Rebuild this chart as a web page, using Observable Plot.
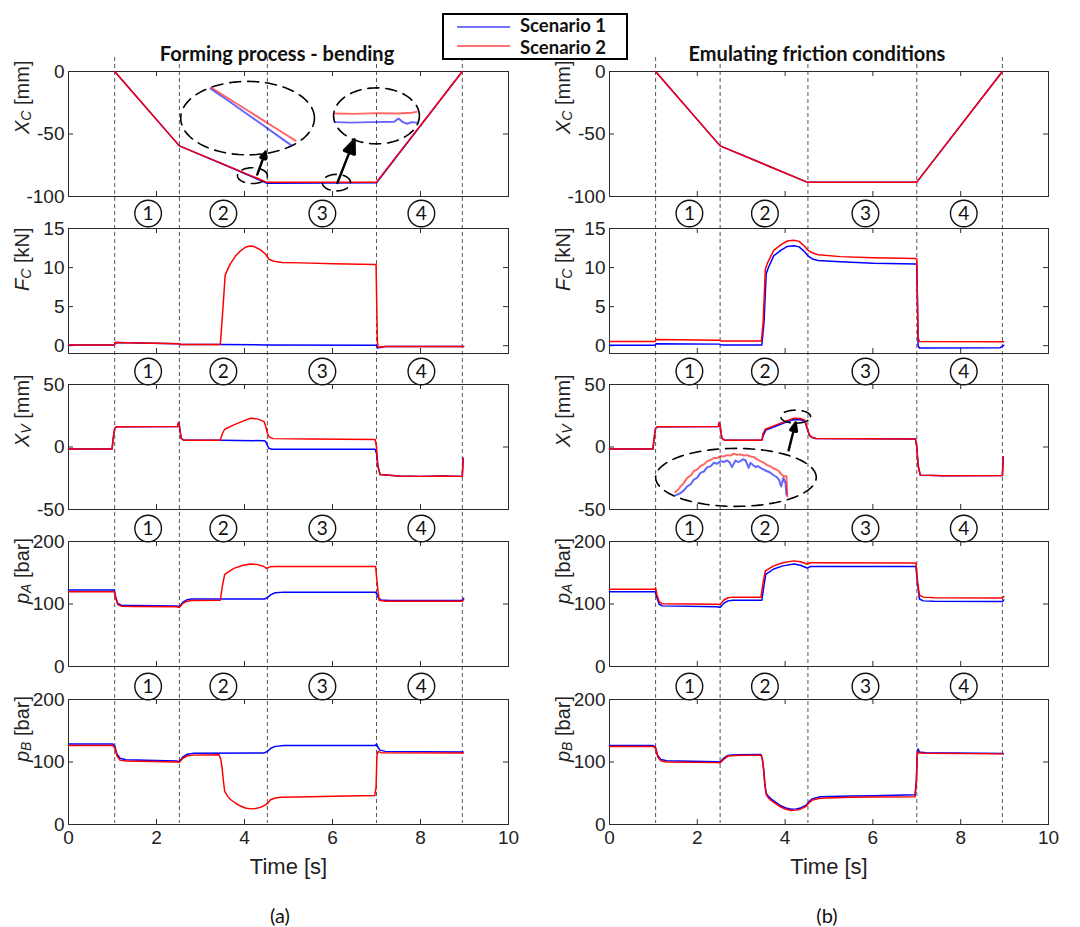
<!DOCTYPE html>
<html><head><meta charset="utf-8">
<script src="https://cdn.jsdelivr.net/npm/d3@7"></script>
<script src="https://cdn.jsdelivr.net/npm/@observablehq/plot@0.6"></script>
<style>
body{margin:0;background:#fff;}
#root{position:relative;width:1080px;height:927px;background:#fff;overflow:hidden;}
.ttl{position:absolute;font-family:Lato,"Open Sans",sans-serif;font-weight:bold;font-size:20px;color:#111;transform:translate(-50%,-50%);white-space:nowrap;}
.cap{position:absolute;font-family:Lato,"Open Sans",sans-serif;font-size:20px;color:#111;transform:translate(-50%,-50%);white-space:nowrap;}
#legend{position:absolute;left:442px;top:13px;width:186px;height:47px;box-sizing:border-box;border:2px solid #000;background:#fff;}
.lgline{position:absolute;left:13px;width:53px;height:1.5px;}
.lgtxt{position:absolute;left:76px;font-family:Lato,"Open Sans",sans-serif;font-weight:bold;font-size:18.5px;color:#111;line-height:17px;white-space:nowrap;}
svg{overflow:visible;}
</style></head><body><div id="root"></div><script>
// ---------- axes / labels ----------
const XT = [0, 2, 4, 6, 8, 10];
const DASH_T = [1.05, 2.52, 4.52, 7.0, 8.95];
const CIRC_T_A = [1.81, 3.52, 5.77, 8.02];
const CIRC_T_B = [1.82, 3.54, 5.83, 8.07];
const CIRC_LABELS = ["1", "2", "3", "4"];
const YLABELS = [["X", "C", " [mm]"], ["F", "C", " [kN]"], ["X", "V", " [mm]"], ["p", "A", " [bar]"], ["p", "B", " [bar]"]];
const YDOMAINS = [[-100, 0], [-1, 15], [-50, 50], [0, 200], [0, 200]];
const YTICKS = [[-100, -50, 0], [0, 5, 10, 15], [-50, 0, 50], [0, 100, 200], [0, 100, 200]];
const TITLES = ["Forming process - bending", "Emulating friction conditions"];
const SERIES = ["Scenario 1", "Scenario 2"];
const PANEL_TAGS = ["(a)", "(b)"];
const XLABEL = "Time [s]";

// ---------- data: [time s, value] ----------
// (a) Forming process - bending
const XC_A_S1 = [[1.05,0],[2.52,-59.5],[3.7,-77],[4.5,-89.3],[7.0,-89],[8.95,0]];
const XC_A_S2 = [[1.05,0],[2.52,-59.5],[4.5,-88.5],[7.0,-88.5],[8.95,0]];
const FC_A_S1 = [[0,0.1],[1.04,0.1],[1.06,0.4],[2.5,0.25],[2.55,0.15],[3.45,0.15],[4.5,0.1],[7.0,0.05],[7.02,-0.3],[7.2,-0.1],[8.98,-0.1]];
const FC_A_S2 = [[0,0.1],[1.04,0.1],[1.06,0.4],[2.5,0.25],[2.55,0.15],[3.45,0.15],[3.5,4],[3.56,9.0],[3.62,9.8],[3.68,10.5],[3.8,11.5],[3.9,12.1],[4.02,12.6],[4.12,12.75],[4.21,12.7],[4.36,12.3],[4.48,11.7],[4.55,11.1],[4.67,10.8],[4.85,10.65],[5.27,10.6],[6.02,10.5],[6.96,10.4],[6.99,10.4],[7.02,0.5],[7.04,-0.2],[7.2,-0.1],[8.98,-0.1]];
const XV_A_S1 = [[0,-1.5],[0.99,-1.5],[1.02,8],[1.05,15],[1.1,16.3],[2.48,16.5],[2.5,19.5],[2.52,17],[2.56,7],[2.62,5.5],[3.45,5.5],[4.45,5.0],[4.48,4.5],[4.55,-1],[4.62,-1.8],[6.97,-1.8],[7.0,-5],[7.03,-15],[7.08,-22],[7.5,-23.2],[8.0,-23.5],[8.5,-23.2],[8.95,-23.5],[8.97,-9]];
const XV_A_S2 = [[0,-1.5],[0.99,-1.5],[1.02,8],[1.05,15],[1.1,16.3],[2.48,16.5],[2.5,19.5],[2.52,17],[2.56,7],[2.62,5.5],[3.45,5.5],[3.5,11],[3.55,14.2],[3.76,17.7],[3.95,20.5],[4.14,23],[4.29,22.5],[4.44,20.5],[4.48,17],[4.52,11],[4.56,8],[4.65,6.7],[5.5,6.4],[6.97,6.0],[7.0,0],[7.03,-15],[7.08,-22],[7.5,-23.2],[8.0,-23.5],[8.5,-23.2],[8.95,-23.5],[8.97,-9]];
const PA_A_S1 = [[0,122.5],[1.04,122.5],[1.07,112],[1.12,101],[1.2,98],[1.5,97.5],[2.45,97],[2.52,96],[2.6,103],[2.7,107],[2.8,108],[4.45,108],[4.52,110],[4.6,115],[4.7,118],[4.9,119],[6.97,119],[7.0,117],[7.04,110],[7.1,106.5],[7.3,105.5],[8.95,105.5],[8.98,109]];
const PA_A_S2 = [[0,119.5],[1.04,119.5],[1.07,110],[1.12,99],[1.2,96.5],[1.5,96],[2.45,95.5],[2.52,94.5],[2.6,101],[2.7,104.5],[2.8,105.5],[3.45,106],[3.5,130],[3.55,147.5],[3.76,157],[3.95,161.5],[4.14,164],[4.3,163],[4.44,160],[4.5,157],[4.58,159.5],[4.7,160],[6.98,160],[7.02,130],[7.06,106],[7.2,104.5],[8.95,104.5],[8.98,107]];
const PB_A_S1 = [[0,129],[1.0,129],[1.05,126],[1.1,113],[1.17,106],[1.3,103.5],[2.45,101.5],[2.52,101],[2.6,108],[2.7,112.5],[2.85,114],[4.45,114.5],[4.52,117],[4.6,122],[4.7,125],[4.9,126.5],[6.97,126.5],[7.0,129],[7.03,124],[7.08,119],[7.2,117],[8.97,116]];
const PB_A_S2 = [[0,126.5],[1.0,126.5],[1.05,123],[1.1,110],[1.17,103],[1.3,101.5],[2.45,100],[2.52,99.5],[2.6,106],[2.7,110],[2.85,111],[3.42,111.5],[3.46,105],[3.49,91],[3.52,70],[3.55,53],[3.62,45],[3.68,40],[3.8,34],[3.91,29.5],[4.02,26.5],[4.14,25],[4.25,25.5],[4.36,27.4],[4.48,31.5],[4.54,35],[4.59,39.5],[4.7,42.5],[4.82,43.5],[5.5,44.5],[6.02,45.2],[6.96,46.3],[6.99,60],[7.01,110],[7.04,117],[7.1,115],[8.97,114.5]];
// (b) Emulating friction conditions
const XC_B_S1 = [[1.05,0],[2.52,-59.5],[4.5,-88.5],[7.0,-88.5],[8.95,0]];
const XC_B_S2 = [[1.05,0],[2.52,-59.5],[4.5,-88.5],[7.0,-88.5],[8.95,0]];
const FC_B_S1 = [[0,0.05],[1.04,0.05],[1.06,0.25],[2.5,0.2],[2.55,0.1],[3.47,0.1],[3.52,3],[3.57,9.2],[3.62,10.0],[3.74,11.5],[3.9,12.2],[4.05,12.7],[4.2,12.8],[4.32,12.65],[4.45,12.0],[4.52,11.5],[4.62,11.1],[4.75,10.9],[5.26,10.75],[6.02,10.55],[6.97,10.45],[7.0,10.4],[7.03,0],[7.06,-0.3],[8.9,-0.25],[8.98,0.05]];
const FC_B_S2 = [[0,0.55],[1.04,0.55],[1.06,0.8],[2.5,0.7],[2.55,0.6],[3.46,0.6],[3.5,3],[3.55,9.8],[3.6,10.6],[3.74,12.2],[3.9,12.9],[4.05,13.4],[4.2,13.5],[4.32,13.35],[4.45,12.7],[4.52,12.2],[4.62,11.9],[4.75,11.65],[5.26,11.4],[6.02,11.25],[6.97,11.15],[7.0,11.1],[7.03,1.0],[7.06,0.55],[8.98,0.5]];
const XV_B_S1 = [[0,-1.5],[0.99,-1.5],[1.02,8],[1.05,15],[1.1,16.3],[2.48,16.5],[2.5,19.5],[2.52,17],[2.56,7],[2.62,5.5],[3.47,5.5],[3.5,9],[3.56,13.5],[3.74,16],[4.0,19.5],[4.2,22],[4.35,21.8],[4.45,20.5],[4.5,15],[4.55,9.5],[4.6,7.8],[4.7,6.8],[6.97,6.5],[7.0,0],[7.03,-15],[7.08,-22.5],[7.6,-23],[8.95,-22.8],[8.97,-8]];
const XV_B_S2 = [[0,-1.5],[0.99,-1.5],[1.02,8],[1.05,15],[1.1,16.3],[2.48,16.5],[2.5,19.5],[2.52,17],[2.56,7],[2.62,5.5],[3.47,5.5],[3.5,11],[3.55,14.2],[3.74,16.9],[4.0,20.5],[4.2,23.1],[4.35,22.8],[4.45,21.5],[4.5,16],[4.55,10],[4.6,8],[4.7,6.8],[6.97,6.5],[7.0,0],[7.03,-15],[7.08,-22.5],[7.6,-23],[8.95,-22.8],[8.97,-8]];
const PA_B_S1 = [[0,119.5],[1.04,119.5],[1.08,110],[1.13,100],[1.2,97],[2.45,95.5],[2.52,94.5],[2.6,101],[2.7,105],[2.8,106],[3.47,106],[3.52,130],[3.56,147.5],[3.74,156],[3.95,161],[4.2,164],[4.35,162],[4.5,157.5],[4.58,160],[4.7,160.2],[6.98,160],[7.02,130],[7.06,108],[7.15,105],[7.4,104.5],[8.95,104],[8.98,106.5]];
const PA_B_S2 = [[0,123.5],[1.03,123.5],[1.05,126],[1.08,115],[1.13,104],[1.2,100.5],[2.45,99.5],[2.52,99],[2.6,106],[2.7,110],[2.8,111],[3.45,111],[3.5,135],[3.55,153],[3.74,161],[3.95,166],[4.2,169],[4.35,167.5],[4.5,164],[4.58,166],[4.7,166],[6.98,165.5],[7.02,135],[7.06,114],[7.15,111],[7.4,110],[8.95,109.5],[8.98,112]];
const PB_B_S1 = [[0,126.5],[1.0,126.5],[1.05,123],[1.1,110],[1.17,104],[1.3,102],[2.45,100.5],[2.52,100],[2.6,106],[2.7,110.5],[2.85,111.5],[3.45,112],[3.48,106],[3.51,90],[3.54,65],[3.57,50],[3.62,45],[3.68,41],[3.8,35],[3.9,30],[4.02,26.5],[4.14,24.5],[4.25,25],[4.35,26.5],[4.48,31],[4.55,37],[4.62,41],[4.8,44.5],[5.5,45.5],[6.02,46],[6.96,47.5],[6.99,70],[7.01,112],[7.03,121],[7.06,116],[7.2,115],[8.97,113.5]];
const PB_B_S2 = [[0,125],[1.0,125],[1.05,121.5],[1.1,108],[1.17,102],[1.3,100],[2.45,99],[2.52,98.5],[2.6,104],[2.7,109.5],[2.85,110.5],[3.45,111],[3.48,105],[3.51,88],[3.54,62],[3.57,48],[3.62,42.5],[3.68,38.5],[3.8,32.5],[3.9,28],[4.02,24.5],[4.14,22.5],[4.25,23],[4.35,24.5],[4.48,29],[4.55,35],[4.62,39],[4.8,42],[5.5,43.5],[6.02,44],[6.96,44.5],[6.99,68],[7.01,110],[7.03,117],[7.06,114.5],[7.2,114],[8.97,113]];

// ---------- zoom-in annotations (data coordinates) ----------
// ellipses: [centre t, centre value, half-width s, half-height units]
const XC_A_ELLIPSES = [[4.07,-37.3,1.52,29.4],[4.18,-83.3,0.34,6.3],[7.0,-35.5,0.975,22.4],[6.09,-88.9,0.32,6.6]];
const XC_A_ARROWS = [[4.29,-82.5,4.48,-64],[6.11,-89.2,6.5,-54.2]];
const XC_A_ZOOM1_S1 = [[3.23,-13.8],[3.6,-22.6],[4.0,-32.6],[4.4,-42.4],[4.8,-52.5],[5.05,-58.7]];
const XC_A_ZOOM1_S2 = [[3.24,-12.8],[3.6,-20.8],[4.0,-29.6],[4.4,-38.5],[4.8,-47.4],[5.16,-55.3]];
const XC_A_ZOOM2_S1 = [[6.07,-40.5],[6.4,-40.9],[6.9,-40.5],[7.4,-40.2],[7.5,-37.6],[7.6,-40.5],[7.7,-41.8],[7.8,-40.5],[7.91,-40.9]];
const XC_A_ZOOM2_S2 = [[6.07,-33.6],[6.5,-33.9],[7.0,-33.3],[7.5,-33.6],[7.8,-33.0],[7.91,-32.3]];
const XV_B_ELLIPSES = [[2.88,-24.3,1.83,23.2],[4.24,24.3,0.34,5.2]];
const XV_B_ARROWS = [[4.08,-2.7,4.24,19.6]];
const XV_B_ZOOM_S1 = [[1.50,-38.7],[1.62,-36.8],[1.70,-34.5],[1.77,-31.5],[1.85,-29.8],[1.92,-26.1],[2.0,-24.5],[2.07,-20.7],[2.15,-19.6],[2.23,-16.1],[2.30,-15.5],[2.38,-12.6],[2.45,-13.4],[2.53,-11.3],[2.60,-12.0],[2.68,-10.8],[2.74,-12.5],[2.79,-16.1],[2.87,-10.8],[2.93,-12.1],[2.98,-11.3],[3.04,-9.8],[3.10,-10.8],[3.17,-16.7],[3.21,-12.6],[3.27,-14.5],[3.33,-16.1],[3.38,-15.2],[3.44,-16.7],[3.52,-18.2],[3.59,-19.4],[3.66,-20.4],[3.74,-22.6],[3.80,-23.8],[3.86,-26.1],[3.91,-31.5],[3.96,-24.7],[4.01,-28.8],[4.03,-38.2]];
const XV_B_ZOOM_S2 = [[1.50,-36.0],[1.56,-34.2],[1.62,-31.5],[1.70,-28.5],[1.77,-24.7],[1.85,-22.8],[1.92,-19.4],[2.0,-17.9],[2.07,-15.3],[2.15,-13.9],[2.23,-11.3],[2.30,-10.4],[2.38,-8.6],[2.45,-8.9],[2.53,-7.3],[2.60,-7.6],[2.68,-6.5],[2.75,-6.9],[2.83,-5.4],[2.90,-6.2],[2.98,-5.9],[3.06,-6.8],[3.14,-6.5],[3.21,-7.6],[3.29,-8.1],[3.36,-9.9],[3.44,-11.3],[3.52,-12.6],[3.59,-14.5],[3.66,-15.4],[3.74,-17.2],[3.80,-18.0],[3.86,-19.4],[3.92,-22.0],[3.97,-23.4],[4.03,-23.4],[4.05,-39.5]];

// ---------- layout ----------
const root = document.getElementById("root");
const COLS = [{left: 0, ml: 68, mr: 32}, {left: 540, ml: 69, mr: 32}];
const FRAME_TOP = [71, 228, 384, 541, 699];
const FH = 125;
const BLUE = "#0000ff", RED = "#ff0000", AXC = "#2b2b2b";
const FONT = "Liberation Sans, Arial, sans-serif";
const fx = d => d[0], fy = d => d[1];

function ellipsePts(e) {
  const [cx, cy, rx, ry] = e, pts = [];
  for (let i = 0; i <= 96; i++) { const a = i / 96 * 2 * Math.PI; pts.push([cx + rx * Math.cos(a), cy + ry * Math.sin(a)]); }
  return pts;
}

// dashed phase boundaries (behind everything)
COLS.forEach(c => {
  const p = Plot.plot({
    width: 540, height: 927, marginTop: 57, marginBottom: 104, marginLeft: c.ml, marginRight: c.mr,
    x: {domain: [0, 10], axis: null}, style: {background: "transparent"},
    marks: [Plot.ruleX(DASH_T, {x: d => d, stroke: "#555", strokeWidth: 1, strokeDasharray: "4,3"})]
  });
  p.style.position = "absolute"; p.style.left = c.left + "px"; p.style.top = "0px";
  root.append(p);
});

function panel(col, row, s1, s2, extra) {
  const c = COLS[col];
  const mt = 40, mb = row === 4 ? 75 : 20;
  const W = 540 - c.ml - c.mr;
  const lab = YLABELS[row];
  const full = lab.join("");
  const circT = col === 0 ? CIRC_T_A : CIRC_T_B;
  const marks = [
    Plot.frame({stroke: AXC, strokeWidth: 1}),
    Plot.tickX(XT, {x: d => d, stroke: AXC, insetBottom: FH - 5}),
    Plot.tickX(XT, {x: d => d, stroke: AXC, insetTop: FH - 5}),
    Plot.tickY(YTICKS[row], {y: d => d, stroke: AXC, insetRight: W - 5}),
    Plot.tickY(YTICKS[row], {y: d => d, stroke: AXC, insetLeft: W - 5}),
    Plot.axisY({anchor: "left", ticks: YTICKS[row], tickSize: 0, tickPadding: 4, tickFormat: d => String(d), label: null, fontSize: 19, fill: "#222"}),
    Plot.text([full], {frameAnchor: "left", dx: -46, rotate: -90, text: d => d, fontSize: 20, fill: "#222"}),
    Plot.line(s1, {x: fx, y: fy, stroke: BLUE, strokeWidth: 1.5}),
    Plot.line(s2, {x: fx, y: fy, stroke: RED, strokeWidth: 1.5}),
    ...(extra || [])
  ];
  if (row > 0) {
    const dy = row === 1 ? -15 : -13;
    marks.push(Plot.dot(circT, {x: d => d, frameAnchor: "top", dy, r: 13.3, stroke: "#111", strokeWidth: 1.4, fill: "none"}));
    marks.push(Plot.text(circT, {x: d => d, text: (d, i) => CIRC_LABELS[i], frameAnchor: "top", lineAnchor: "middle", dy, fontSize: 19, fontFamily: "Lato, Open Sans, sans-serif", fill: "#111"}));
  }
  if (row === 4) {
    marks.push(Plot.axisX({anchor: "bottom", ticks: XT, tickSize: 0, tickPadding: 6, tickFormat: d => String(d), label: null, fontSize: 19, fill: "#222"}));
    marks.push(Plot.text([XLABEL], {frameAnchor: "bottom", lineAnchor: "middle", dy: 42, text: d => d, fontSize: 22, fill: "#222"}));
  }
  const p = Plot.plot({
    width: 540, height: FH + mt + mb, marginTop: mt, marginBottom: mb, marginLeft: c.ml, marginRight: c.mr,
    x: {domain: [0, 10], label: null, ...(row === 4 ? {} : {axis: null})},
    y: {domain: YDOMAINS[row], label: null},
    style: {background: "transparent", fontFamily: FONT, color: "#222", overflow: "visible"},
    marks
  });
  // italic symbol with subscript in the y label
  const t = [...p.querySelectorAll("text")].find(e => e.textContent === full);
  if (t) {
    t.textContent = "";
    const ns = "http://www.w3.org/2000/svg";
    const a = document.createElementNS(ns, "tspan"); a.textContent = lab[0]; a.setAttribute("font-style", "italic");
    const b = document.createElementNS(ns, "tspan"); b.textContent = lab[1]; b.setAttribute("font-style", "italic"); b.setAttribute("font-size", "14"); b.setAttribute("dy", "2");
    const r = document.createElementNS(ns, "tspan"); r.textContent = lab[2]; r.setAttribute("dy", "-2");
    t.append(a, b, r);
  }
  // filled arrow heads: close the head sub-path drawn by Plot.arrow
  p.querySelectorAll('g[aria-label="arrow"] path').forEach(e => { e.setAttribute("d", e.getAttribute("d") + "Z"); e.setAttribute("fill", "#000"); e.setAttribute("stroke-linejoin", "miter"); });
  p.style.position = "absolute"; p.style.left = c.left + "px"; p.style.top = (FRAME_TOP[row] - mt) + "px";
  root.append(p);
}

const zoomStyle = {strokeOpacity: 0.6, strokeWidth: 2};
const ellMarks = list => list.map(e => Plot.line(ellipsePts(e), {x: fx, y: fy, stroke: "#000", strokeWidth: 1.6, strokeDasharray: "11,7"}));
const arrowMarks = list => [Plot.arrow(list, {x1: d => d[0], y1: d => d[1], x2: d => d[2], y2: d => d[3], stroke: "#000", strokeWidth: 2.4, headLength: 13, headAngle: 45})];

panel(0, 0, XC_A_S1, XC_A_S2, [
  ...ellMarks(XC_A_ELLIPSES),
  Plot.line(XC_A_ZOOM1_S1, {x: fx, y: fy, stroke: BLUE, ...zoomStyle}),
  Plot.line(XC_A_ZOOM1_S2, {x: fx, y: fy, stroke: RED, ...zoomStyle}),
  Plot.line(XC_A_ZOOM2_S1, {x: fx, y: fy, stroke: BLUE, ...zoomStyle}),
  Plot.line(XC_A_ZOOM2_S2, {x: fx, y: fy, stroke: RED, ...zoomStyle}),
  ...arrowMarks(XC_A_ARROWS)
]);
panel(0, 1, FC_A_S1, FC_A_S2);
panel(0, 2, XV_A_S1, XV_A_S2);
panel(0, 3, PA_A_S1, PA_A_S2);
panel(0, 4, PB_A_S1, PB_A_S2);
panel(1, 0, XC_B_S1, XC_B_S2);
panel(1, 1, FC_B_S1, FC_B_S2);
panel(1, 2, XV_B_S1, XV_B_S2, [
  ...ellMarks(XV_B_ELLIPSES),
  Plot.line(XV_B_ZOOM_S1, {x: fx, y: fy, stroke: BLUE, ...zoomStyle}),
  Plot.line(XV_B_ZOOM_S2, {x: fx, y: fy, stroke: RED, ...zoomStyle}),
  ...arrowMarks(XV_B_ARROWS)
]);
panel(1, 3, PA_B_S1, PA_B_S2);
panel(1, 4, PB_B_S1, PB_B_S2);

// titles, legend, panel tags
function addDiv(cls, text, x, y) { const d = document.createElement("div"); d.className = cls; d.textContent = text; d.style.left = x + "px"; d.style.top = y + "px"; root.append(d); }
addDiv("ttl", TITLES[0], 277, 53);
addDiv("ttl", TITLES[1], 817, 53);
addDiv("cap", PANEL_TAGS[0], 280, 915);
addDiv("cap", PANEL_TAGS[1], 827, 915);
const lg = document.createElement("div"); lg.id = "legend";
[["#7272ff", 11, 2], ["#ff7272", 30, 24]].forEach(([col, ly, ty], i) => {
  const l = document.createElement("div"); l.className = "lgline"; l.style.top = ly + "px"; l.style.background = col; lg.append(l);
  const t = document.createElement("div"); t.className = "lgtxt"; t.style.top = ty + "px"; t.textContent = SERIES[i]; lg.append(t);
});
root.append(lg);
</script></body></html>
